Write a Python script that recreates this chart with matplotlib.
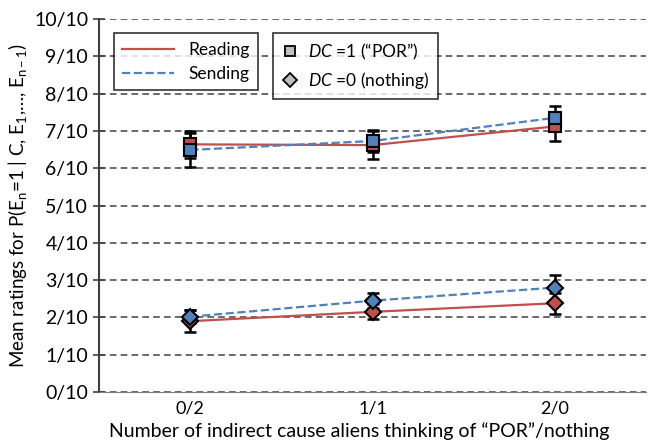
import numpy as np
import matplotlib
matplotlib.use("Agg")
import matplotlib.pyplot as plt
from matplotlib.lines import Line2D

plt.rcParams['font.family'] = ['Lato', 'DejaVu Sans']
plt.rcParams['mathtext.fontset'] = 'custom'
plt.rcParams['mathtext.rm'] = 'Lato'
plt.rcParams['mathtext.it'] = 'Lato:italic'
plt.rcParams['mathtext.default'] = 'regular'

# data
categories = ["0/2", "1/1", "2/0"]
read_dc1 = [6.64, 6.62, 7.12]
read_dc1_err = [0.36, 0.38, 0.38]
send_dc1 = [6.49, 6.73, 7.35]
send_dc1_err = [0.45, 0.30, 0.33]
read_dc0 = [1.90, 2.15, 2.38]
read_dc0_err = [0.30, 0.20, 0.28]
send_dc0 = [2.02, 2.45, 2.80]
send_dc0_err = [0.18, 0.20, 0.35]
yticks = [f"{i}/10" for i in range(11)]

red = "#C0504D"
blue = "#4F81BD"

fig = plt.figure(figsize=(6.49, 4.42), dpi=100)
ax = fig.add_axes([0.153, 0.113, 0.842, 0.844])
x = np.arange(len(categories))

for vals, errs, col, ls, mk in [(read_dc1, read_dc1_err, red, '-', 's'),
                                (send_dc1, send_dc1_err, blue, '--', 's'),
                                (read_dc0, read_dc0_err, red, '-', 'D'),
                                (send_dc0, send_dc0_err, blue, '--', 'D')]:
    ax.errorbar(x, vals, yerr=errs, fmt='none', ecolor='black', elinewidth=1.8,
                capsize=4.5, capthick=1.8, zorder=3)
    ax.plot(x, vals, color=col, ls=ls, lw=1.6, zorder=4)
    ax.plot(x, vals, ls='none', marker=mk, ms=8,
            mfc=col, mec='black', mew=1.5, zorder=5)

ax.set_xlim(-0.5, 2.5)
ax.set_ylim(0, 10)
ax.set_xticks(x)
ax.set_xticklabels(categories, fontsize=13)
ax.set_yticks(range(11))
ax.set_yticklabels(yticks, fontsize=14)
ax.yaxis.grid(True, ls=(0, (4, 2.5)), color='#505050', lw=1.2)
ax.set_axisbelow(True)
for s in ['top', 'right']:
    ax.spines[s].set_visible(False)
ax.spines['left'].set_color('#404040')
ax.spines['left'].set_linewidth(1.5)
ax.spines['bottom'].set_color('#808080')
ax.tick_params(axis='y', direction='inout', length=8, width=1.2, color='#404040', pad=4)
ax.tick_params(axis='x', length=0, pad=6)

ax.set_xlabel("Number of indirect cause aliens thinking of \u201cPOR\u201d/nothing",
              fontsize=14)
ax.xaxis.set_label_coords(0.475, -0.128, transform=ax.transAxes)
ax.xaxis.label.set_va('bottom')
ax.set_ylabel("Mean ratings for P(E$_{n}$=1 | C, E$_{1}$,\u2026, E$_{n-1}$)",
              fontsize=13.5, labelpad=4)

h1 = [Line2D([], [], color=red, lw=1.6), Line2D([], [], color=blue, lw=1.6, ls='--')]
leg1 = ax.legend(h1, ["Reading", "Sending"], loc='upper left',
                 bbox_to_anchor=(0.026, 0.962), borderaxespad=0, fontsize=12.5,
                 frameon=True, fancybox=False, edgecolor='black', handlelength=3.0,
                 handletextpad=0.8, borderpad=0.5, labelspacing=0.45)
leg1.get_frame().set_linewidth(1.2)
ax.add_artist(leg1)

h2 = [Line2D([], [], ls='none', marker='s', ms=7, mfc='#BFBFBF', mec='black', mew=1.3),
      Line2D([], [], ls='none', marker='D', ms=7, mfc='#BFBFBF', mec='black', mew=1.3)]
leg2 = ax.legend(h2, ["$\\it{DC}$ =1 (\u201cPOR\u201d)", "$\\it{DC}$ =0 (nothing)"],
                 loc='upper left', bbox_to_anchor=(0.318, 0.962), borderaxespad=0,
                 fontsize=12.5, frameon=True, fancybox=False, edgecolor='black',
                 handlelength=1.0, handletextpad=0.5, borderpad=0.5, labelspacing=0.45)
leg2.get_frame().set_linewidth(1.2)

fig.savefig("out.png", dpi=100)
